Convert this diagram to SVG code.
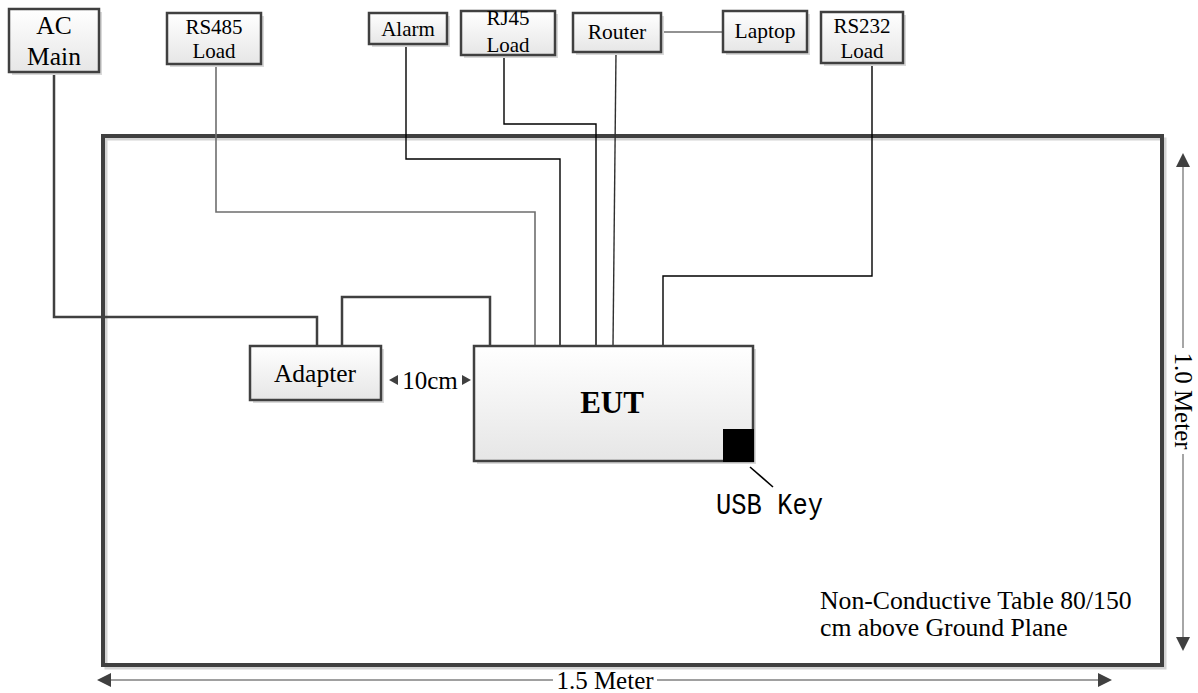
<svg xmlns="http://www.w3.org/2000/svg" width="1198" height="693" viewBox="0 0 1198 693">
<defs>
<linearGradient id="g" x1="0" y1="0" x2="0" y2="1"><stop offset="0" stop-color="#ffffff"/><stop offset="1" stop-color="#e6e6e6"/></linearGradient>
<style>
.box{fill:url(#g);stroke:#404040;stroke-width:2.5}
.sh{fill:#d9d9d9;stroke:none}
.t{font-family:"Liberation Serif","Times New Roman",serif;fill:#000;text-anchor:middle}
.l{text-anchor:start}
.w{fill:none;stroke:#000;stroke-width:1.4}
.wg{fill:none;stroke:#6e6e6e;stroke-width:1.6}
.wt{fill:none;stroke:#404040;stroke-width:2.5}
.dim{stroke:#808080;stroke-width:1.4;fill:none}
.ah{fill:#404040}
</style>
</defs>
<rect width="1198" height="693" fill="#fff"/>
<g id="table">
<rect x="106" y="139" width="1059" height="529" fill="none" stroke="#d4d4d4" stroke-width="3"/>
<rect x="103" y="136" width="1059" height="529" fill="none" stroke="#404040" stroke-width="4"/>
<text class="t l" x="820" y="609" font-size="25.7">Non-Conductive Table 80/150</text>
<text class="t l" x="820" y="636" font-size="25.7">cm above Ground Plane</text>
</g>
<g id="connectors">
<polyline class="wt" points="54,72 54,317 317,317 317,346"/>
<polyline class="wt" points="342,346 342,297 490,297 490,346"/>
<polyline class="wg" points="216,64 216,212 535,212 535,347"/>
<polyline class="w" points="406,44 406,159 560,159 560,346"/>
<polyline class="w" points="504,55 504,124 596,124 596,346"/>
<line x1="616" y1="52" x2="613" y2="346" stroke="#303030" stroke-width="1.4"/>
<polyline class="w" points="872,63 872,276 663,276 663,346"/>
<line class="wg" x1="661" y1="32" x2="723" y2="32"/>
<line x1="750" y1="467" x2="773" y2="487" stroke="#000" stroke-width="1.6"/>
</g>
<g id="ac-main"><rect class="sh" x="12" y="12" width="90" height="63"/><rect class="box" x="9" y="9" width="90" height="63"/><text class="t" x="54" y="34" font-size="25.5">AC</text><text class="t" x="54" y="65" font-size="25.5">Main</text></g>
<g id="rs485"><rect class="sh" x="170" y="16" width="94" height="51"/><rect class="box" x="167" y="13" width="94" height="51"/><text class="t" x="214" y="34" font-size="21">RS485</text><text class="t" x="214" y="58" font-size="21">Load</text></g>
<g id="alarm"><rect class="sh" x="372" y="16" width="78" height="31"/><rect class="box" x="369" y="13" width="78" height="31"/><text class="t" x="408" y="36" font-size="21">Alarm</text></g>
<g id="rj45"><rect class="sh" x="464" y="14" width="94" height="44"/><rect class="box" x="461" y="11" width="94" height="44"/><text class="t" x="508" y="25" font-size="21">RJ45</text><text class="t" x="508" y="52" font-size="21">Load</text></g>
<g id="router"><rect class="sh" x="576" y="16" width="88" height="39"/><rect class="box" x="573" y="13" width="88" height="39"/><text class="t" x="617" y="39" font-size="21.5">Router</text></g>
<g id="laptop"><rect class="sh" x="726" y="14" width="84" height="41"/><rect class="box" x="723" y="11" width="84" height="41"/><text class="t" x="765" y="38" font-size="21.5">Laptop</text></g>
<g id="rs232"><rect class="sh" x="824" y="15" width="82" height="51"/><rect class="box" x="821" y="12" width="82" height="51"/><text class="t" x="862" y="33" font-size="21">RS232</text><text class="t" x="862" y="58" font-size="21">Load</text></g>
<g id="adapter"><rect class="sh" x="253" y="349" width="131" height="54"/><rect class="box" x="250" y="346" width="131" height="54"/><text class="t" x="315" y="382" font-size="25.5">Adapter</text></g>
<g id="eut"><rect class="sh" x="477" y="349" width="279" height="115"/><rect class="box" x="474" y="346" width="279" height="115"/><text class="t" x="612" y="413" font-size="31" font-weight="bold">EUT</text><rect x="723" y="429" width="31" height="33" fill="#000"/></g>
<g id="usb-key"><text x="716" y="514" font-family="'Liberation Mono','Courier New',monospace" font-size="29" textLength="107" lengthAdjust="spacingAndGlyphs">USB Key</text></g>
<g id="gap-10cm"><polygon class="ah" points="389,380 398,375 398,385"/><polygon class="ah" points="471,380 462,375 462,385"/><text class="t" x="430" y="389" font-size="25">10cm</text></g>
<g id="dim-h">
<line class="dim" x1="108" y1="680" x2="553" y2="680"/>
<line class="dim" x1="657" y1="680" x2="1101" y2="680"/>
<polygon class="ah" points="97,680 111,673 111,687"/>
<polygon class="ah" points="1112,680 1098,673 1098,687"/>
<text class="t" x="605" y="689" font-size="25">1.5 Meter</text>
</g>
<g id="dim-v">
<line class="dim" x1="1183" y1="163" x2="1183" y2="348"/>
<line class="dim" x1="1183" y1="454" x2="1183" y2="640"/>
<polygon class="ah" points="1183,153 1176,167 1190,167"/>
<polygon class="ah" points="1183,651 1176,637 1190,637"/>
<text class="t" x="1183" y="401" font-size="25" transform="rotate(90 1183 401)" dy="8">1.0 Meter</text>
</g>
</svg>
